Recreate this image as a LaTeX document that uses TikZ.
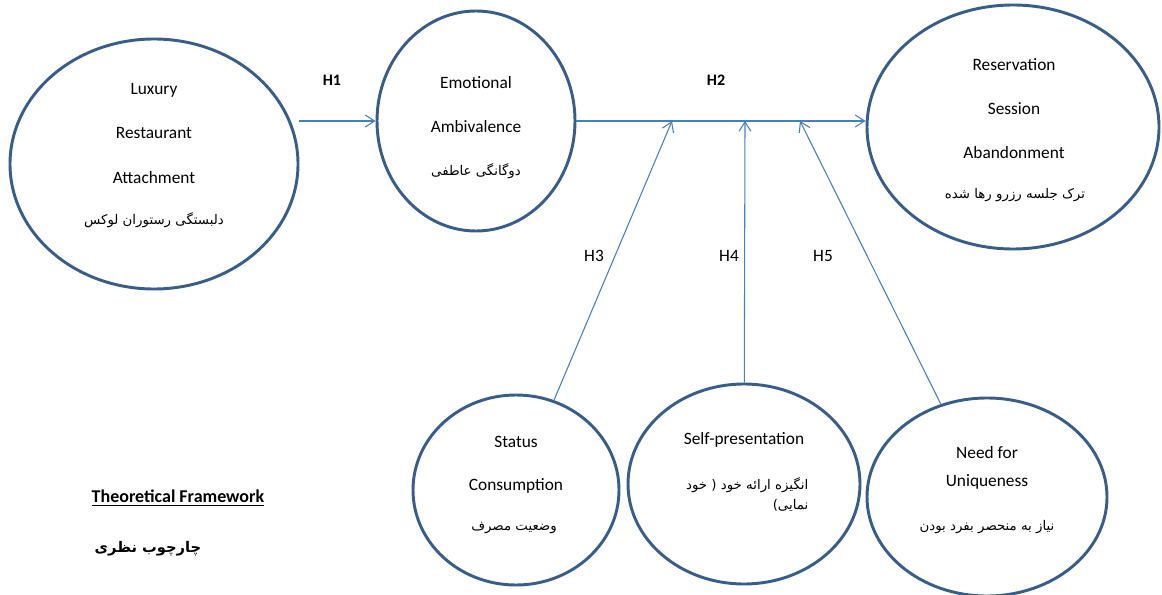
\documentclass[tikz,border=0pt]{standalone}
\usepackage{fontspec}
\setmainfont{Carlito}
\newfontfamily\farsi[Script=Arabic]{DejaVu Sans}
\TeXXeTstate=1
\usetikzlibrary{positioning,arrows.meta,shapes.geometric}
\definecolor{rimblue}{HTML}{385D8A}
\definecolor{linkblue}{HTML}{4A7EBB}

\begin{document}
\begin{tikzpicture}[x=.75pt,y=-.75pt,font=\fontsize{13}{15}\selectfont,
 construct/.style={ellipse,draw=rimblue,line width=2.2pt,inner sep=0pt},
 link/.style={draw=linkblue,line width=.8pt,-{Straight Barb[length=7pt,width=9pt]}},
 fa/.style={font=\farsi\fontsize{10}{12}\selectfont},
 hyp/.style={font=\bfseries\fontsize{12}{14}\selectfont}]
\useasboundingbox (0,0) rectangle (1162,595);
% constructs
\node[construct,minimum width=216pt,minimum height=187.5pt] (lux) at (154,164) {};
\node[construct,minimum width=148.5pt,minimum height=165pt] (emo) at (476,121) {};
\node[construct,minimum width=219pt,minimum height=183pt] (res) at (1013,127) {};
\node[construct,minimum width=154.5pt,minimum height=142.5pt] (sta) at (516,490) {};
\node[construct,minimum width=174pt,minimum height=150pt] (self) at (744,484) {};
\node[construct,minimum width=180pt,minimum height=148.5pt] (need) at (987,497) {};
% labels inside
\node (lux1) at (154,90) {Luxury};
\node (lux2) at (154,133) {Restaurant};
\node (lux3) at (154,178) {Attachment};
\node[fa] (luxfa) at (154,220) {\beginR دلبستگی رستوران لوکس\endR};
\node (emo1) at (476,83) {Emotional};
\node (emo2) at (476,127) {Ambivalence};
\node[fa] (emofa) at (476,171) {\beginR دوگانگی عاطفی\endR};
\node (res1) at (1014,65) {Reservation};
\node (res2) at (1014,109) {Session};
\node (res3) at (1014,153) {Abandonment};
\node[fa] (resfa) at (1015,195) {\beginR ترک جلسه رزرو رها شده\endR};
\node (sta1) at (516,442) {Status};
\node (sta2) at (516,486) {Consumption};
\node[fa] (stafa) at (514,528) {\beginR وضعیت مصرف\endR};
\node (self1) at (744,440) {Self-presentation};
\node[fa,anchor=east] (selffa1) at (813,485) {\beginR انگیزه ارائه خود ( خود\endR};
\node[fa,anchor=east] (selffa2) at (813,505) {\beginR نمایی)\endR};
\node (need1) at (987,453) {Need for};
\node (need2) at (987,482) {Uniqueness};
\node[fa] (needfa) at (987,527) {\beginR نیاز به منحصر بفرد بودن\endR};
% paths
\coordinate (h3end) at (672,121);
\coordinate (h4end) at (745,121);
\coordinate (h5end) at (800,121);
\draw[link] (lux.east |- emo.west) -- (emo.west);
\draw[link] (emo.east) -- (emo.east -| res.west);
\draw[link] (sta) -- (h3end);
\draw[link] (self) -- (h4end);
\draw[link] (need) -- (h5end);
\node[hyp] (h1) at (332,80) {H1};
\node[hyp] (h2) at (716,80) {H2};
\node (h3) at (594,256) {H3};
\node (h4) at (729,256) {H4};
\node (h5) at (823,256) {H5};
% caption
\node[anchor=west,font=\bfseries\fontsize{13.5}{15}\selectfont] (cap) at (87,498) {\underline{Theoretical Framework}};
\node[anchor=west,font=\farsi\bfseries\fontsize{11}{13}\selectfont] (capfa) at (90,549) {\beginR چارچوب نظری\endR};
\end{tikzpicture}
\end{document}
